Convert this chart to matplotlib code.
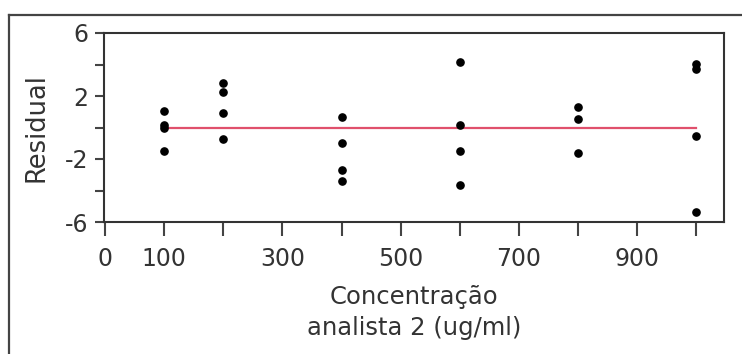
import matplotlib
matplotlib.use("Agg")
import matplotlib.pyplot as plt
from matplotlib.lines import Line2D

# Data
x_levels = [100, 100, 100, 100, 200, 200, 200, 200, 400, 400, 400, 400,
            600, 600, 600, 600, 800, 800, 800, 1000, 1000, 1000, 1000]
residuals = [1.04, 0.15, -0.05, -1.51, 2.81, 2.25, 0.91, -0.70,
             0.66, -0.98, -2.68, -3.40, 4.15, 0.13, -1.51, -3.66,
             1.32, 0.51, -1.64, 4.02, 3.74, -0.57, -5.38]
fit_x = [100, 1000]
fit_y = [0, 0]

x_ticks = [0, 100, 200, 300, 400, 500, 600, 700, 800, 900, 1000]
x_tick_labels = ["0", "100", "", "300", "", "500", "", "700", "", "900", ""]
y_ticks = [6, 4, 2, 0, -2, -4, -6]
y_tick_labels = ["6", "", "2", "", "-2", "", "-6"]

plt.rcParams['font.family'] = ['DejaVu Sans']
W, H = 742, 354
fig = plt.figure(figsize=(W / 100, H / 100), dpi=100)
fig.patch.set_facecolor("white")

# outer frame
frame_col = "#444444"
fig.add_artist(Line2D([9 / W, 9 / W], [0, 1 - 15 / H], transform=fig.transFigure,
                      color=frame_col, lw=1.6))
fig.add_artist(Line2D([9 / W, 1], [1 - 15 / H, 1 - 15 / H], transform=fig.transFigure,
                      color=frame_col, lw=1.6))

left, right, top, bottom = 104, 724, 33, 222
ax = fig.add_axes([left / W, 1 - bottom / H, (right - left) / W, (bottom - top) / H])

ax.plot(fit_x, fit_y, color="#e0506c", lw=1.6, zorder=2)
ax.plot(x_levels, residuals, "o", color="black", markersize=5.2, zorder=3)

ax.set_xlim(-2, 1047)
ax.set_ylim(-6, 6)
ax.set_xticks(x_ticks)
ax.set_xticklabels(x_tick_labels)
ax.set_yticks(y_ticks)
ax.set_yticklabels(y_tick_labels)

text_col = "#333333"
for s in ax.spines.values():
    s.set_color("#333333")
    s.set_linewidth(1.5)
ax.tick_params(axis="x", length=10, width=1.5, color="#444444", labelsize=17,
               labelcolor=text_col, pad=8)
ax.tick_params(axis="y", length=6.5, width=1.5, color="#444444", labelsize=17,
               labelcolor=text_col, pad=5)

ax.set_xlabel("Concentração\nanalista 2 (ug/ml)", fontsize=17.5, color=text_col,
              labelpad=10, linespacing=1.4)
ax.set_ylabel("Residual", fontsize=18.5, color=text_col, labelpad=11)

fig.savefig("out.png", dpi=100, facecolor="white")
